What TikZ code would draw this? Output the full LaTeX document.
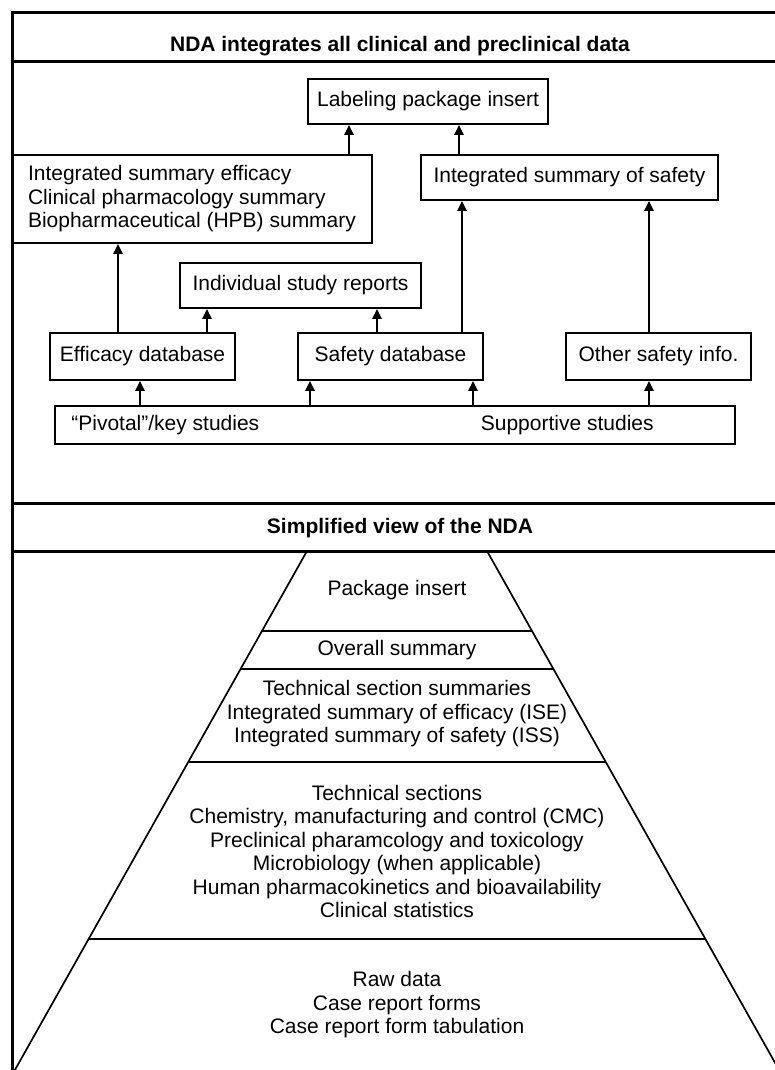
\documentclass[tikz,border=0pt]{standalone}
\usepackage{fontspec}
\setmainfont{Liberation Sans}
\usetikzlibrary{arrows.meta,calc}
\tikzset{
  node-box/.style={draw,line width=1.7pt,inner sep=0pt,align=center,
    font=\fontsize{21}{23.5}\selectfont},
  node-text/.style={inner sep=0pt,align=center,font=\fontsize{21}{23.5}\selectfont},
  node-title/.style={inner sep=0pt,anchor=base,font=\fontsize{21}{24}\selectfont\bfseries},
  arrow/.style={-{Triangle[length=10pt,width=9pt]},line width=2.8pt},
  rule-line/.style={line width=3pt},
  tier-line/.style={line width=1.7pt},
}

\begin{document}
\begin{tikzpicture}[x=1pt,y=-1pt]
  \clip (0,0) rectangle (775,1070);
  % frame and section rules
  \draw[rule-line] (12,1100) -- (12,13) -- (800,13);
  \draw[rule-line] (12,62) -- (800,62);
  \draw[rule-line] (12,503) -- (800,503);
  \draw[rule-line] (12,551) -- (800,551);

  % upper part: flow of data into the NDA
  \node[node-title] (title-top) at (400,52) {NDA integrates all clinical and preclinical data};
  \node[node-box,minimum width=240pt,minimum height=45pt] (labeling) at (428,101.5) {Labeling package insert};
  \node[node-box,minimum width=360pt,minimum height=88pt,align=left] (ise) at (192,199)
    {Integrated summary efficacy\\Clinical pharmacology summary\\Biopharmaceutical (HPB) summary};
  \node[node-box,minimum width=297pt,minimum height=45pt] (iss) at (569.5,177.5) {Integrated summary of safety};
  \node[node-box,minimum width=241pt,minimum height=45pt] (reports) at (300.5,285.5) {Individual study reports};
  \node[node-box,minimum width=185pt,minimum height=47pt] (efficacy-db) at (142.5,356.5) {Efficacy database};
  \node[node-box,minimum width=185pt,minimum height=47pt] (safety-db) at (390.5,356.5) {Safety database};
  \node[node-box,minimum width=185pt,minimum height=47pt] (other-info) at (658.5,356.5) {Other safety info.};
  \node[node-box,minimum width=680pt,minimum height=38pt] (studies) at (395,425) {};
  \node[node-text,anchor=west] (key-studies) at ($(studies.west)+(17,0)$) {“Pivotal”/key studies};
  \node[node-text,anchor=east] (supp-studies) at ($(studies.east)+(-82,0)$) {Supportive studies};

  \draw[arrow] ($(efficacy-db.north)+(-24.5,0)$) -- ($(efficacy-db.north |- ise.south)+(-24.5,0)$);
  \draw[arrow] ($(efficacy-db.north)+(64.5,0)$) -- ($(efficacy-db.north |- reports.south)+(64.5,0)$);
  \draw[arrow] ($(safety-db.north)+(-13.5,0)$) -- ($(safety-db.north |- reports.south)+(-13.5,0)$);
  \draw[arrow] ($(safety-db.north)+(71.5,0)$) -- ($(safety-db.north |- iss.south)+(71.5,0)$);
  \draw[arrow] ($(other-info.north)+(-9.5,0)$) -- ($(other-info.north |- iss.south)+(-9.5,0)$);
  \draw[arrow] ($(ise.north)+(157,0)$) -- ($(ise.north |- labeling.south)+(157,0)$);
  \draw[arrow] ($(iss.north)+(-110.5,0)$) -- ($(iss.north |- labeling.south)+(-110.5,0)$);
  \draw[arrow] ($(efficacy-db.south |- studies.north)+(-2.5,0)$) -- ($(efficacy-db.south)+(-2.5,0)$);
  \draw[arrow] ($(safety-db.south |- studies.north)+(-80.5,0)$) -- ($(safety-db.south)+(-80.5,0)$);
  \draw[arrow] ($(safety-db.south |- studies.north)+(82.5,0)$) -- ($(safety-db.south)+(82.5,0)$);
  \draw[arrow] ($(other-info.south |- studies.north)+(-9.5,0)$) -- ($(other-info.south)+(-9.5,0)$);

  % lower part: the pyramid
  \node[node-title] (title-bottom) at (400,533) {Simplified view of the NDA};
  \coordinate (apex-l) at (307,551);
  \coordinate (apex-r) at (487,551);
  \coordinate (foot-l) at (-2,1100);
  \coordinate (foot-r) at (796,1100);
  \draw[tier-line] (foot-l) -- (apex-l);
  \draw[tier-line] (foot-r) -- (apex-r);
  \foreach \yy in {631,669,762,939}
    \draw[tier-line] ($(apex-l)!{(\yy-551)/549}!(foot-l)$) -- ($(apex-r)!{(\yy-551)/549}!(foot-r)$);

  \node[node-text] (tier-insert) at (397,590) {Package insert};
  \node[node-text] (tier-overall) at (397,650) {Overall summary};
  \node[node-text] (tier-summaries) at (397,714)
    {Technical section summaries\\Integrated summary of efficacy (ISE)\\Integrated summary of safety (ISS)};
  \node[node-text] (tier-sections) at (397,851.5)
    {Technical sections\\Chemistry, manufacturing and control (CMC)\\Preclinical pharamcology and toxicology\\
     Microbiology (when applicable)\\Human pharmacokinetics and bioavailability\\Clinical statistics};
  \node[node-text] (tier-raw) at (397,1005)
    {Raw data\\Case report forms\\Case report form tabulation};
\end{tikzpicture}
\end{document}
